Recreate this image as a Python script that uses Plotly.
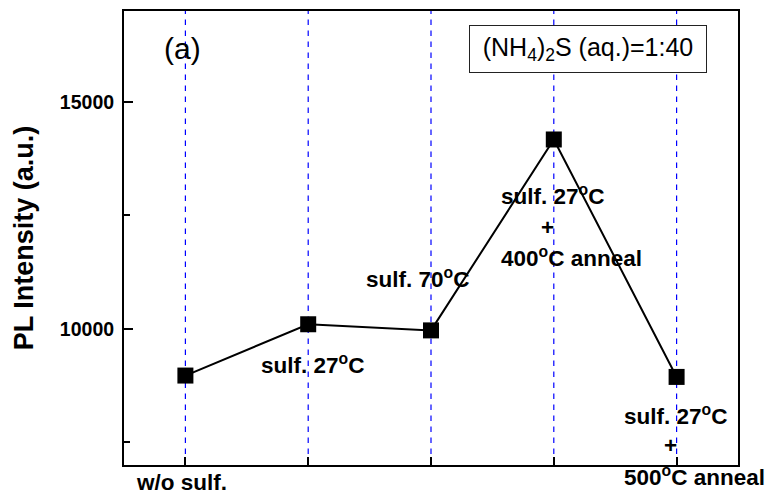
import plotly.graph_objects as go

# Sample sequence and measured PL intensity
steps = [1, 2, 3, 4, 5]
pl_intensity = [8970, 10100, 9965, 14170, 8940]

# Labels inside the plot area: (text, x, y, xanchor) in data units
labels = [
    ("sulf. 27<sup>o</sup>C", 1.597, 9225, "left"),
    ("sulf. 70<sup>o</sup>C", 2.453, 11113, "left"),
    ("sulf. 27<sup>o</sup>C", 3.553, 12958, "left"),
    ("+", 3.945, 12233, "center"),
    ("400<sup>o</sup>C anneal", 3.553, 11575, "left"),
    ("sulf. 27<sup>o</sup>C", 4.558, 8105, "left"),
    ("+", 4.95, 7424, "center"),
]

# Labels under the x axis: (text, x, y in paper units, xanchor)
bottom_labels = [
    ("w/o sulf.", 0.97, -0.038, "center"),
    ("500<sup>o</sup>C anneal", 4.558, -0.024, "left"),
]

y_range = [7000, 17000]
x_range = [0.5, 5.5]

FONT = "Liberation Sans, Arial, sans-serif"
BOLD = dict(family=FONT, size=22.5, color="black", weight="bold")

fig = go.Figure()

# dashed blue guide at every sample position
for s in steps:
    fig.add_vline(x=s, line=dict(color="#0000ff", width=1.2, dash="5.5px,5.5px"),
                  layer="below")

fig.add_trace(go.Scatter(
    x=steps, y=pl_intensity,
    mode="lines+markers",
    line=dict(color="black", width=2),
    marker=dict(symbol="square", size=16, color="black"),
    showlegend=False,
))

annotations = []
for text, x, y, anchor in labels:
    annotations.append(dict(
        text=text, x=x, y=y, xref="x", yref="y",
        xanchor=anchor, yanchor="middle", showarrow=False, font=BOLD,
    ))
for text, x, y, anchor in bottom_labels:
    annotations.append(dict(
        text=text, x=x, y=y, xref="x", yref="paper",
        xanchor=anchor, yanchor="middle", showarrow=False, font=BOLD,
    ))

annotations.append(dict(
    text="(a)", x=0.973, y=16164, xref="x", yref="y",
    showarrow=False, font=dict(family=FONT, size=30, color="black"),
))
annotations.append(dict(
    text="(NH<sub>4</sub>)<sub>2</sub>S (aq.)=1:40", x=4.28, y=16153,
    xref="x", yref="y", showarrow=False,
    width=234, height=44, borderpad=1, borderwidth=1, bordercolor="#222",
    bgcolor="white",
    font=dict(family=FONT, size=25, color="black"),
))

fig.update_layout(
    width=769, height=501,
    margin=dict(l=124, r=31, t=9, b=36),
    paper_bgcolor="white", plot_bgcolor="white",
    annotations=annotations,
    xaxis=dict(
        range=x_range, tickmode="array", tickvals=steps,
        showticklabels=False,
        ticks="inside", ticklen=8, tickwidth=2, tickcolor="black",
        showline=True, linecolor="black", linewidth=2, mirror=True,
        showgrid=False, zeroline=False,
    ),
    yaxis=dict(
        range=y_range, tickmode="linear", tick0=0, dtick=5000,
        tickformat="d", ticklabelstandoff=4,
        ticks="inside", ticklen=9, tickwidth=2, tickcolor="black",
        minor=dict(dtick=2500, tick0=0, ticks="inside", ticklen=6, tickwidth=2, tickcolor="black"),
        showline=True, linecolor="black", linewidth=2, mirror=True,
        showgrid=False, zeroline=False,
        tickfont=dict(family=FONT, size=19.5, color="black", weight="bold"),
        title=dict(text="PL Intensity (a.u.)", standoff=18,
                   font=dict(family=FONT, size=27, color="black", weight="bold")),
    ),
)

fig.write_html("out.html")
